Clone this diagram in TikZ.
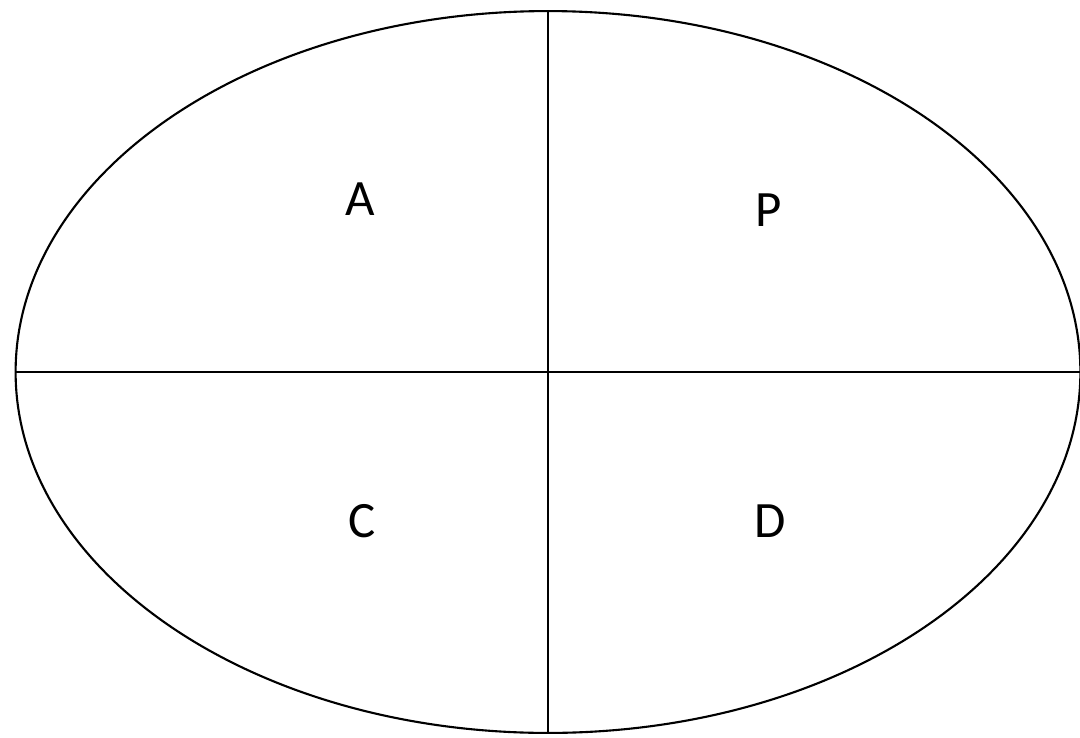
\documentclass[tikz,border=0pt]{standalone}
\usepackage{fontspec}
\setmainfont{Carlito}
\usetikzlibrary{shapes.geometric}
\begin{document}
\begin{tikzpicture}[x=0.02cm, y=-0.02cm, line width=1.2pt,
  quad/.style={inner sep=0pt, font=\fontsize{29}{30}\selectfont}]
  \useasboundingbox (0,0) rectangle (1080,738);
  \node[draw, ellipse, inner sep=0pt, outer sep=0pt,
        minimum width=21.3cm, minimum height=14.44cm] (oval) at (548,372) {};
  \draw (oval.west) -- (oval.east);
  \draw (oval.north) -- (oval.south);
  \node[quad] (a) at (360,199) {A};
  \node[quad] (p) at (769,210) {P};
  \node[quad] (c) at (362,521) {C};
  \node[quad] (d) at (770,521) {D};
\end{tikzpicture}
\end{document}
